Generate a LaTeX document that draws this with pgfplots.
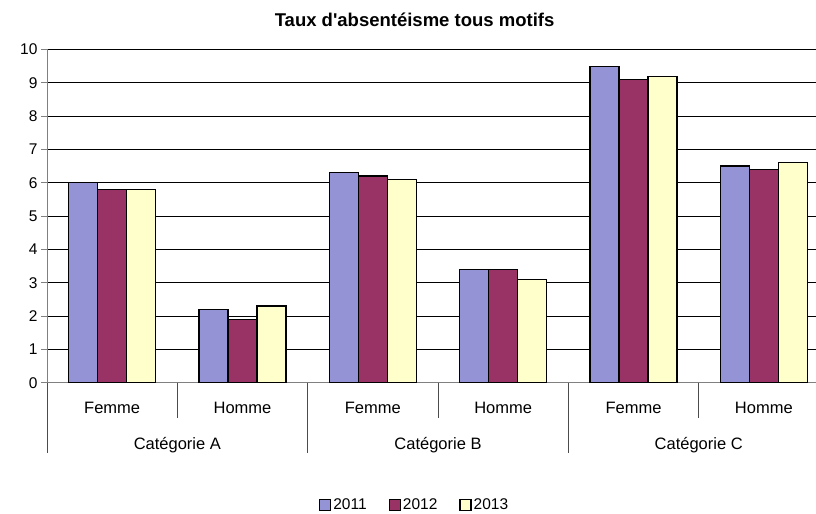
\documentclass[border=0pt]{standalone}
\usepackage{pgfplots}
\pgfplotsset{compat=1.18}
\usepackage{fontspec}
\setmainfont{Liberation Sans}[Ligatures=TeXOff]
\definecolor{cA}{RGB}{147,147,214}
\definecolor{cB}{RGB}{153,51,102}
\definecolor{cC}{RGB}{255,255,204}
\pgfplotsset{/pgfplots/ybar legend/.style={/pgfplots/legend image code/.code={\draw[##1,draw=black,line width=1.3bp] (0bp,-5.5bp) rectangle (11bp,5.5bp);}}}
\tikzset{sep/.style={draw=black!70, line width=1bp},
  lab/.style={anchor=base, inner sep=0pt, font=\fontsize{16.5bp}{18bp}\selectfont}}
\begin{document}
\begin{tikzpicture}
\begin{axis}[name=ax,
  scale only axis, width=769bp, height=333.2bp,
  xmin=-0.5, xmax=5.4, ymin=0, ymax=10,
  axis x line*=bottom, axis y line*=left,
  x axis line style={draw=gray, line width=1bp},
  y axis line style={draw=gray, line width=1bp},
  ybar=0pt, bar width=29bp,
  xtick=\empty,
  ytick={0,1,...,10},
  tick align=outside, major tick length=6bp,
  y tick style={draw=gray, line width=1bp},
  ymajorgrids, major grid style={draw=black, line width=0.8bp},
  /pgf/number format/assume math mode=true,
  yticklabel style={font=\fontsize{15.5bp}{17bp}\selectfont},
  clip=false,
  legend style={at={(0.478,-0.367)}, anchor=center, draw=none, legend columns=3,
    font=\fontsize{15.5bp}{17bp}\selectfont,
    /tikz/every even column/.append style={column sep=20bp},
    inner sep=0pt},
  legend cell align=left,
]
\addplot[fill=cA, draw=black, line width=1.3bp] coordinates {(0,6.0) (1,2.2) (2,6.3) (3,3.4) (4,9.5) (5,6.5)};
\addplot[fill=cB, draw=black, line width=1.3bp] coordinates {(0,5.8) (1,1.9) (2,6.2) (3,3.4) (4,9.1) (5,6.4)};
\addplot[fill=cC, draw=black, line width=1.3bp] coordinates {(0,5.8) (1,2.3) (2,6.1) (3,3.1) (4,9.2) (5,6.6)};
\legend{2011,2012,2013}
\draw[sep] (axis cs:0.5,0) -- ([yshift=-35.3bp]axis cs:0.5,0);
\draw[sep] (axis cs:2.5,0) -- ([yshift=-35.3bp]axis cs:2.5,0);
\draw[sep] (axis cs:4.5,0) -- ([yshift=-35.3bp]axis cs:4.5,0);
\draw[sep] (axis cs:-0.5,0) -- ([yshift=-70.3bp]axis cs:-0.5,0);
\draw[sep] (axis cs:1.5,0) -- ([yshift=-70.3bp]axis cs:1.5,0);
\draw[sep] (axis cs:3.5,0) -- ([yshift=-70.3bp]axis cs:3.5,0);
\node[lab] at ([yshift=-30.3bp]axis cs:0,0) {Femme};
\node[lab] at ([yshift=-30.3bp]axis cs:1,0) {Homme};
\node[lab] at ([yshift=-30.3bp]axis cs:2,0) {Femme};
\node[lab] at ([yshift=-30.3bp]axis cs:3,0) {Homme};
\node[lab] at ([yshift=-30.3bp]axis cs:4,0) {Femme};
\node[lab] at ([yshift=-30.3bp]axis cs:5,0) {Homme};
\node[lab] at ([yshift=-66.3bp]axis cs:0.5,0) {Catégorie A};
\node[lab] at ([yshift=-66.3bp]axis cs:2.5,0) {Catégorie B};
\node[lab] at ([yshift=-66.3bp]axis cs:4.5,0) {Catégorie C};
\node[anchor=base, inner sep=0pt, font=\bfseries\fontsize{18.5bp}{20bp}\selectfont] at ([yshift=22.5bp]rel axis cs:0.478,1) {Taux d'absentéisme tous motifs};
\end{axis}
\pgfresetboundingbox
\path[use as bounding box] (ax.south west) ++(-47bp,-131.3bp) rectangle ++(816bp,514bp);
\end{tikzpicture}
\end{document}
